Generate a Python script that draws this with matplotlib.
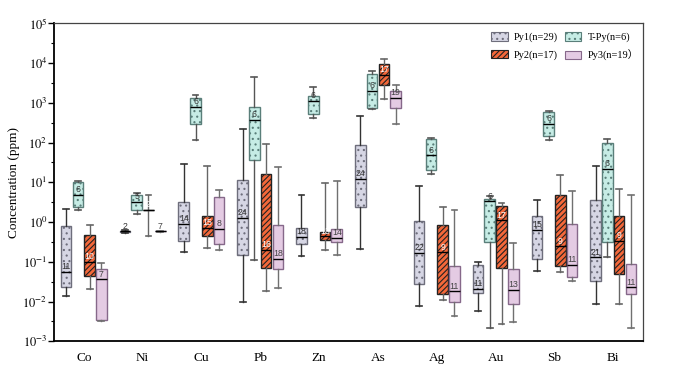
import numpy as np
import matplotlib
matplotlib.use("Agg")
import matplotlib.pyplot as plt
from matplotlib.patches import Patch
from matplotlib.ticker import FixedLocator, NullFormatter

plt.rcParams["font.family"] = ["Liberation Serif", "Noto Sans CJK SC", "DejaVu Serif"]
plt.rcParams["mathtext.fontset"] = "stix"
plt.rcParams["hatch.linewidth"] = 0.8

elements = ["Co", "Ni", "Cu", "Pb", "Zn", "As", "Ag", "Au", "Sb", "Bi"]
series = ["Py1", "T-Py", "Py2", "Py3"]
legend_labels = ["Py1(n=29)", "T-Py(n=6)", "Py2(n=17)", "Py3(n=19\uff09"]

# per element: whislo, q1, median, q3, whishi
py1_lo  = [0.014, 0.52, 0.18, 0.0097, 0.142, 0.21, 0.0078, 0.0059, 0.060, 0.0088]
py1_q1  = [0.023, 0.55, 0.325, 0.148, 0.284, 2.38, 0.028, 0.0164, 0.119, 0.0334]
py1_med = [0.055, 0.58, 0.91, 1.26, 0.42, 12.1, 0.166, 0.0206, 0.64, 0.129]
py1_q3  = [0.78, 0.60, 3.19, 11.4, 0.69, 88, 1.08, 0.084, 1.44, 3.64]
py1_hi  = [2.1, 0.62, 28.8, 222, 4.78, 454, 8.2, 0.099, 3.64, 25]
py1_n   = [11, 2, 14, 24, 18, 24, 22, 11, 15, 21]

tpy_lo  = [2.04, 1.64, 116, 0.113, 421, 697, 16.4, 0.0022, 118, 0.132]
tpy_q1  = [2.33, 2.0, 292, 36.3, 521, 738, 20.7, 0.307, 148, 0.314]
tpy_med = [4.86, 3.2, 782, 375, 1107, 1977, 47.4, 3.3, 297, 21.5]
tpy_q3  = [9.9, 4.86, 1316, 782, 1504, 5383, 122, 3.86, 572, 97]
tpy_hi  = [10.7, 5.37, 1567, 4345, 2432, 6150, 130, 4.41, 631, 122]
tpy_n   = [6, 5, 6, 6, 6, 6, 6, 6, 6, 6]

py2_lo  = [0.0206, 0.44, 0.222, 0.018, 0.193, 1265, 0.0109, 0.0028, 0.054, 0.0087]
py2_q1  = [0.0446, 2.0, 0.452, 0.068, 0.352, 2845, 0.0154, 0.068, 0.0764, 0.0492]
py2_med = [0.10, 2.0, 0.706, 0.201, 0.434, 5000, 0.172, 1.1, 0.243, 0.34]
py2_q3  = [0.47, 2.0, 1.38, 16.4, 0.547, 9600, 0.855, 2.47, 4.86, 1.44]
py2_hi  = [0.82, 4.78, 26.1, 91.7, 9.57, 12600, 2.33, 3.0, 15.5, 6.76]
py2_n   = [10, 2, 15, 16, 13, 17, 9, 17, 9, 9]

py3_lo  = [0.0033, 0.57, 0.201, 0.0214, 0.150, 292, 0.0044, 0.0030, 0.032, 0.0022]
py3_q1  = [0.0035, 0.58, 0.28, 0.0642, 0.307, 738, 0.0097, 0.0087, 0.0413, 0.0157]
py3_med = [0.036, 0.58, 0.667, 0.117, 0.396, 1340, 0.018, 0.0198, 0.0843, 0.0226]
py3_q3  = [0.0657, 0.58, 4.26, 0.822, 0.667, 1932, 0.0764, 0.0657, 0.906, 0.0893]
py3_hi  = [0.096, 0.59, 6.38, 24.6, 10.7, 2798, 2.04, 0.296, 5.89, 4.86]
py3_n   = [7, 7, 8, 18, 14, 19, 11, 13, 11, 11]

data = {
    "Py1": (py1_lo, py1_q1, py1_med, py1_q3, py1_hi, py1_n),
    "T-Py": (tpy_lo, tpy_q1, tpy_med, tpy_q3, tpy_hi, tpy_n),
    "Py2": (py2_lo, py2_q1, py2_med, py2_q3, py2_hi, py2_n),
    "Py3": (py3_lo, py3_q1, py3_med, py3_q3, py3_hi, py3_n),
}

face = {"Py1": "#d6d6e4", "T-Py": "#c6ece5", "Py2": "#f4683a", "Py3": "#e4cbe3"}
edge = {"Py1": "#6e6e7c", "T-Py": "#5a7f7a", "Py2": "#222222", "Py3": "#86688a"}
hatch = {"Py1": "...", "T-Py": "...", "Py2": "//////", "Py3": None}
whisk = {"Py1": "#333333", "T-Py": "#555555", "Py2": "#666666", "Py3": "#707070"}
numcol = {"Py1": "#333333", "T-Py": "#333333", "Py2": "white", "Py3": "#444444"}
offsets = [-0.3, -0.1, 0.1, 0.3]

fig = plt.figure(figsize=(6.8, 3.73), dpi=100)
ax = fig.add_axes([0.0799, 0.085, 0.8653, 0.8525])
ax.set_yscale("log")

x = np.arange(1, len(elements) + 1)
for s, off in zip(series, offsets):
    lo, q1, med, q3, hi, n = data[s]
    stats = [dict(whislo=lo[i], q1=q1[i], med=med[i], q3=q3[i], whishi=hi[i], fliers=[])
             for i in range(len(elements))]
    bp = ax.bxp(stats, positions=x + off, widths=0.18, patch_artist=True,
                showfliers=False, manage_ticks=False,
                boxprops=dict(facecolor=face[s], edgecolor=edge[s], linewidth=1.0,
                              hatch=hatch[s]),
                medianprops=dict(color="black", linewidth=1.0),
                whiskerprops=dict(color=whisk[s], linewidth=1.0),
                capprops=dict(color=whisk[s], linewidth=1.2))
    for c in bp["caps"]:
        xd = c.get_xdata()
        m = (xd[0] + xd[1]) / 2
        c.set_xdata([m - 0.05, m + 0.05])
    for i in range(len(elements)):
        ax.text(x[i] + off, med[i] * 1.04, str(n[i]), ha="center", va="bottom",
                fontsize=6.3, color=numcol[s], family=["Liberation Sans", "DejaVu Sans"])

ax.set_xlim(0.5, 10.5)
ax.set_ylim(1e-3, 1e5)
ax.set_xticks(x)
ax.set_xticklabels(elements, fontsize=9.5)
ax.tick_params(axis="x", length=0, pad=8)
ax.set_yticks([10.0 ** k for k in range(-3, 6)])
ax.set_yticklabels([r"$10^{%d}$" % k for k in range(-3, 6)], fontsize=9)
ax.yaxis.set_minor_locator(FixedLocator([10.0 ** (k + 0.5) for k in range(-3, 5)]))
ax.yaxis.set_minor_formatter(NullFormatter())
ax.tick_params(axis="y", which="major", length=4, width=1, direction="out", pad=1)
ax.tick_params(axis="y", which="minor", length=2.5, width=0.8, direction="out")
ax.set_ylabel("Concentration (ppm)", fontsize=9.5, labelpad=2)

for sp in ["left", "bottom"]:
    ax.spines[sp].set_linewidth(1.3)
    ax.spines[sp].set_color("black")
for sp in ["top", "right"]:
    ax.spines[sp].set_linewidth(0.9)
    ax.spines[sp].set_color("#444444")

handles = [Patch(facecolor=face[s], edgecolor=edge[s], hatch=hatch[s], linewidth=0.8)
           for s in series]
order = [0, 2, 1, 3]
ax.legend([handles[i] for i in order], [legend_labels[i] for i in order], ncol=2,
          loc="upper right", bbox_to_anchor=(1.0, 0.985), frameon=False,
          fontsize=7.5, handlelength=1.6, handleheight=0.9, columnspacing=0.6,
          handletextpad=0.6, labelspacing=0.7, borderaxespad=0)

fig.savefig("out.png", dpi=100)
